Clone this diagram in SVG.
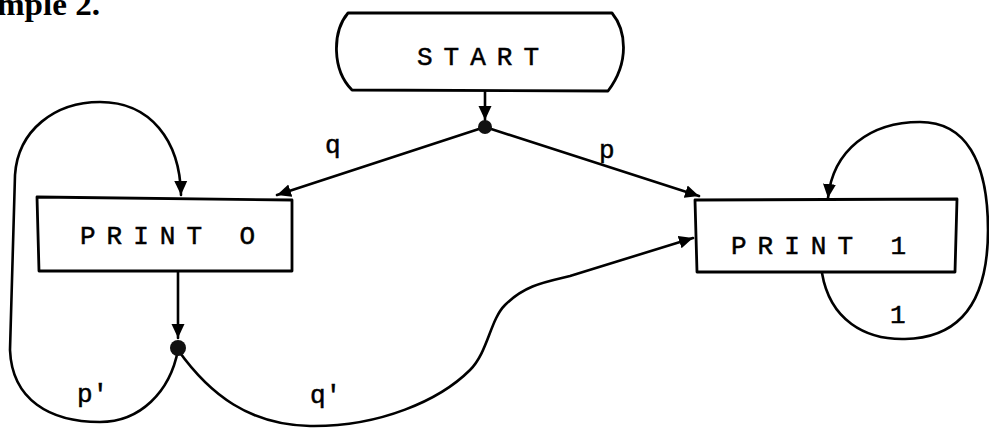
<svg xmlns="http://www.w3.org/2000/svg" width="989" height="428" viewBox="0 0 989 428">
<style>
.ln{fill:none;stroke:#000;stroke-width:2.6;stroke-linecap:round;stroke-linejoin:round}
.box{fill:#fff;stroke:#000;stroke-width:2.8;stroke-linejoin:round}
.t{font-family:"Liberation Mono","Courier New",monospace;font-size:26px;fill:#000;letter-spacing:11px;stroke:#000;stroke-width:0.5}
.l{font-family:"Liberation Mono","Courier New",monospace;font-size:26px;fill:#000;stroke:#000;stroke-width:0.5}
.dot{fill:#111}
</style>
<defs>
<marker id="ah" markerUnits="userSpaceOnUse" markerWidth="16" markerHeight="14" refX="14" refY="7" orient="auto">
<path d="M0,0.5 L14,7 L0,13.5 Z" fill="#000"/>
</marker>
</defs>
<text x="-3" y="15" font-family="Liberation Serif, serif" font-weight="bold" font-size="32" textLength="103" lengthAdjust="spacingAndGlyphs">mple 2.</text>
<g id="connectors">
<path class="ln" d="M485,92 L485,120" marker-end="url(#ah)"/>
<path class="ln" d="M485,127 L277,195" marker-end="url(#ah)"/>
<path class="ln" d="M485,127 L699,196" marker-end="url(#ah)"/>
<path class="ln" d="M178,271 L178,338" marker-end="url(#ah)"/>
<path class="ln" d="M178,350 C170,392 140,422 100,422 C50,422 12,400 10,350 L15,175 C18,130 55,102 100,102 C150,102 180,140 181,195" marker-end="url(#ah)"/>
<path class="ln" d="M178,350 C210,395 250,425 310,426 C380,427 440,400 470,370 C488,352 490,320 505,305 C525,285 545,282 570,276 L693,238" marker-end="url(#ah)"/>
<path class="ln" d="M822,273 C830,320 865,340 905,339 C962,338 988,300 988,230 C988,160 965,122 920,122 C870,122 833,150 828,198" marker-end="url(#ah)"/>
<circle class="dot" cx="485" cy="127" r="7"/>
<circle class="dot" cx="178" cy="348" r="8"/>
<text class="l" x="325" y="153">q</text>
<text class="l" x="599" y="158">p</text>
<text class="l" x="77" y="402">p'</text>
<text class="l" x="310" y="403">q'</text>
<text class="l" x="890" y="323">1</text>
</g>
<g id="start">
<path class="box" d="M348,13 L612,13 C626,30 630,62 608,91 L352,90 C332,70 332,32 348,13 Z"/>
<text class="t" x="417" y="65">START</text>
</g>
<g id="print0">
<path class="box" d="M37,197 L292,200 L292,271 L39,271 Z"/>
<text class="t" x="80" y="244">PRINT O</text>
</g>
<g id="print1">
<path class="box" d="M695,200 L957,199 L955,272 L697,272 Z"/>
<text class="t" x="731" y="254">PRINT 1</text>
</g>
</svg>
